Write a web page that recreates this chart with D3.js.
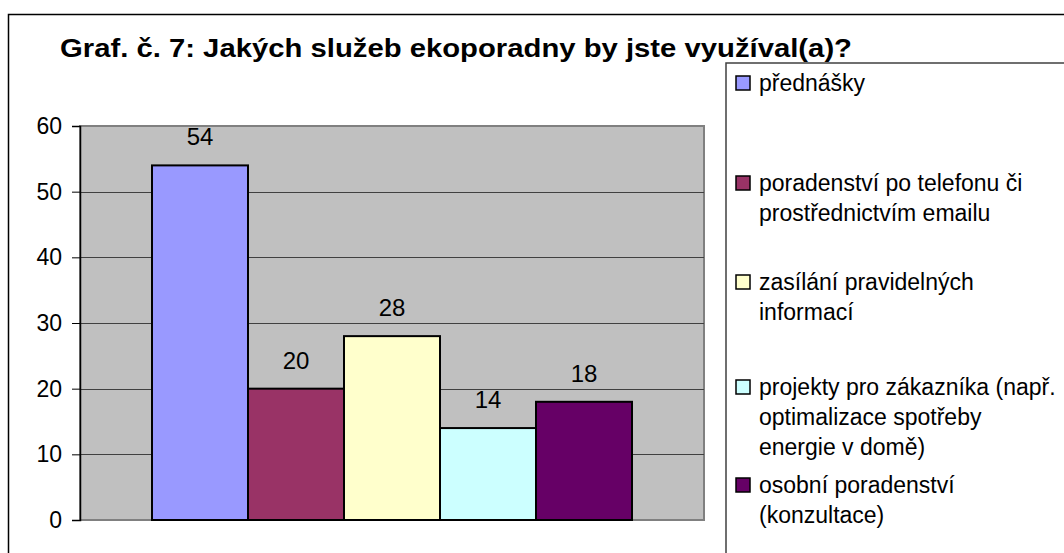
<!DOCTYPE html>
<html>
<head>
<meta charset="utf-8">
<script src="https://cdn.jsdelivr.net/npm/d3@7"></script>
<style>
    body { margin: 0; background: #fff; }
    svg { display: block; font-family: "Liberation Sans", Arial, sans-serif; }
</style>
</head>
<body>
<svg id="chart" width="1064" height="553"></svg>
<script>
let titleText = "Graf. č. 7: Jakých služeb ekoporadny by jste využíval(a)?";
let seriesNames = [
    "přednášky",
    "poradenství po telefonu či prostřednictvím emailu",
    "zasílání pravidelných informací",
    "projekty pro zákazníka (např. optimalizace spotřeby energie v domě)",
    "osobní poradenství (konzultace)",
];
let legendLines = [
    ["přednášky"],
    ["poradenství po telefonu či", "prostřednictvím emailu"],
    ["zasílání pravidelných", "informací"],
    ["projekty pro zákazníka (např.", "optimalizace spotřeby", "energie v domě)"],
    ["osobní poradenství", "(konzultace)"],
];
let seriesValues = [54, 20, 28, 14, 18];
let seriesColors = ["#9999FF", "#993366", "#FFFFCC", "#CCFFFF", "#660066"];
let yTicks = [0, 10, 20, 30, 40, 50, 60];

// layout
let plot = { left: 80, top: 126, right: 704, bottom: 520 };
let legendBox = { left: 726, top: 63 };
let legendRowY = [83, 183, 282, 387, 485];
let legendLineHeight = 30;

let svg = d3.select("#chart");

// outer chart border
svg.append("rect")
    .attr("x", 8.5).attr("y", 14.5)
    .attr("width", 1100).attr("height", 600)
    .attr("fill", "#fff")
    .attr("stroke", "#000")
    .attr("stroke-width", 1.5);

svg.append("text")
    .attr("x", 60).attr("y", 57)
    .attr("font-size", 26)
    .attr("font-weight", "bold")
    .attr("textLength", 792)
    .attr("lengthAdjust", "spacingAndGlyphs")
    .text(titleText);

let y = d3.scaleLinear().domain([0, 60]).range([plot.bottom, plot.top]);
let category = d3.scaleBand().domain(["all"]).range([plot.left, plot.right]).paddingOuter(0.15).paddingInner(0);
let x = d3.scaleBand().domain(seriesNames).range([category("all"), category("all") + category.bandwidth()]);

// plot area
svg.append("rect")
    .attr("x", plot.left).attr("y", plot.top)
    .attr("width", plot.right - plot.left).attr("height", plot.bottom - plot.top)
    .attr("fill", "#C0C0C0")
    .attr("stroke", "#808080")
    .attr("stroke-width", 2);

svg.append("g")
    .selectAll("line")
    .data(yTicks.filter(t => t > 0 && t < 60))
    .join("line")
    .attr("x1", plot.left).attr("x2", plot.right)
    .attr("y1", d => Math.round(y(d)) + 0.5).attr("y2", d => Math.round(y(d)) + 0.5)
    .attr("stroke", "#404040")
    .attr("stroke-width", 1);

let axis = svg.append("g")
    .attr("transform", `translate(${plot.left},0)`)
    .call(d3.axisLeft(y).tickValues(yTicks).tickSize(8).tickPadding(10));
axis.select(".domain").attr("stroke", "#000").attr("stroke-width", 1.5);
axis.selectAll(".tick line").attr("stroke", "#000");
axis.selectAll(".tick text")
    .attr("font-size", 23)
    .attr("font-family", "Liberation Sans, Arial, sans-serif")
    .attr("fill", "#000");

svg.append("g")
    .selectAll("rect")
    .data(seriesValues)
    .join("rect")
    .attr("x", (d, i) => x(seriesNames[i]))
    .attr("y", d => y(d))
    .attr("width", x.bandwidth())
    .attr("height", d => y(0) - y(d))
    .attr("fill", (d, i) => seriesColors[i])
    .attr("stroke", "#000")
    .attr("stroke-width", 2);

svg.append("g")
    .selectAll("text")
    .data(seriesValues)
    .join("text")
    .attr("x", (d, i) => x(seriesNames[i]) + x.bandwidth() / 2)
    .attr("y", d => y(d) - 20)
    .attr("text-anchor", "middle")
    .attr("font-size", 24)
    .text(d => d);

// legend
svg.append("rect")
    .attr("x", legendBox.left).attr("y", legendBox.top)
    .attr("width", 500).attr("height", 600)
    .attr("fill", "#fff")
    .attr("stroke", "#404040")
    .attr("stroke-width", 1.5);

let legendItems = svg.append("g")
    .selectAll("g")
    .data(legendLines)
    .join("g")
    .attr("transform", (d, i) => `translate(${legendBox.left}, ${legendRowY[i]})`);

legendItems.append("rect")
    .attr("x", 10).attr("y", -7)
    .attr("width", 14).attr("height", 14)
    .attr("fill", (d, i) => seriesColors[i])
    .attr("stroke", "#000")
    .attr("stroke-width", 1.5);

legendItems.append("text")
    .attr("font-size", 23)
    .selectAll("tspan")
    .data(d => d)
    .join("tspan")
    .attr("x", 33)
    .attr("y", (d, i) => i * legendLineHeight + 8)
    .text(d => d);
</script>
</body>
</html>
